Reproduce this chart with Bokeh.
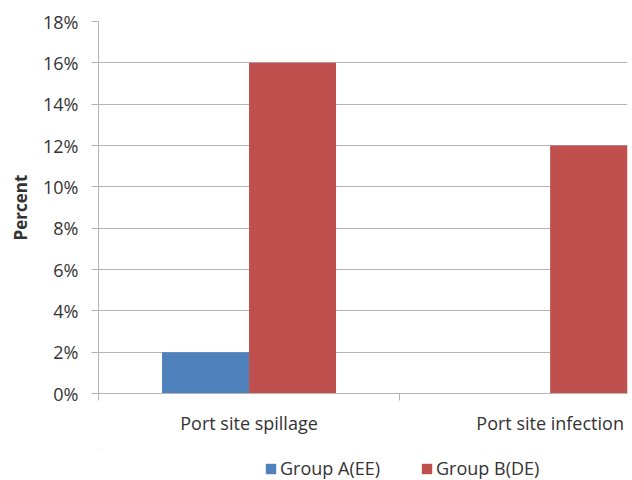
from bokeh.plotting import figure
from bokeh.layouts import column
from bokeh.models import (ColumnDataSource, FixedTicker, PrintfTickFormatter,
                          Range1d, Legend, LegendItem)
from bokeh.embed import file_html
from bokeh.resources import INLINE

# Complication rates (%) by group
categories = ["Port site spillage", "Port site infection"]
series_names = ["Group A(EE)", "Group B(DE)"]
group_a = [2, 0]     # Group A(EE)
group_b = [16, 12]   # Group B(DE)
y_ticks = [0, 2, 4, 6, 8, 10, 12, 14, 16, 18]

FONT = "Open Sans"
TEXT = "#333333"
GRID = "#b4b4b4"
BLUE = "#4F81BD"
RED = "#C0504D"

centers = [i + 0.5 for i in range(len(categories))]
bar_w = 0.289

src = ColumnDataSource(dict(
    xa=[c - bar_w / 2 for c in centers],
    xb=[c + bar_w / 2 for c in centers],
    a=group_a,
    b=group_b,
))

p = figure(width=632, height=448, output_backend="svg", toolbar_location=None,
           x_range=Range1d(0, 1.757), y_range=Range1d(0, 18),
           min_border_left=98, min_border_right=5, min_border_top=21,
           min_border_bottom=55, outline_line_color=None)

p.vbar(x="xa", top="a", bottom=0, width=bar_w, source=src,
       fill_color=BLUE, line_color=None)
p.vbar(x="xb", top="b", bottom=0, width=bar_w, source=src,
       fill_color=RED, line_color=None)

# y axis: percentages with outward ticks
p.yaxis.ticker = FixedTicker(ticks=y_ticks)
p.yaxis.formatter = PrintfTickFormatter(format="%d%%")
p.yaxis.major_tick_out = 7
p.yaxis.major_tick_in = 0
p.yaxis.minor_tick_out = 0
p.yaxis.minor_tick_in = 0
p.yaxis.major_label_standoff = 13
p.yaxis.axis_line_color = GRID
p.yaxis.major_tick_line_color = GRID
p.yaxis.major_label_text_font = FONT
p.yaxis.major_label_text_font_size = "18px"
p.yaxis.major_label_text_color = TEXT
p.yaxis.axis_label = "Percent"
p.yaxis.axis_label_text_font = FONT
p.yaxis.axis_label_text_font_style = "bold"
p.yaxis.axis_label_text_font_size = "17px"
p.yaxis.axis_label_text_color = TEXT
p.yaxis.axis_label_standoff = 8

# x axis: category names at centers, tick marks at category boundaries
p.xaxis.ticker = FixedTicker(ticks=centers,
                             minor_ticks=list(range(len(categories) + 1)))
p.xaxis.major_label_overrides = {c: name for c, name in zip(centers, categories)}
p.xaxis.major_tick_out = 0
p.xaxis.major_tick_in = 0
p.xaxis.minor_tick_out = 7
p.xaxis.minor_tick_in = 0
p.xaxis.minor_tick_line_color = GRID
p.xaxis.axis_line_color = GRID
p.xaxis.major_label_standoff = 10
p.xaxis.major_label_text_font = FONT
p.xaxis.major_label_text_font_size = "18px"
p.xaxis.major_label_text_color = TEXT

p.xgrid.visible = False
p.ygrid.ticker = FixedTicker(ticks=y_ticks)
p.ygrid.grid_line_color = GRID
p.ygrid.grid_line_width = 1.2

# legend strip beneath the chart; its swatch renderers share the bar data
# but lie well outside this strip's visible ranges
leg = figure(width=632, height=32, output_backend="svg", toolbar_location=None,
             x_range=Range1d(50, 51), y_range=Range1d(-50, -49),
             min_border=0, outline_line_color=None)
leg.axis.visible = False
leg.grid.visible = False
swatches = [leg.vbar(x=x, top=t, bottom=0, width=bar_w, source=src,
                     fill_color=c, line_color=None)
            for x, t, c in (("xa", "a", BLUE), ("xb", "b", RED))]
legend = Legend(items=[LegendItem(label=n, renderers=[r])
                       for n, r in zip(series_names, swatches)],
                orientation="horizontal", location=(166, 0),
                glyph_width=13, glyph_height=13, label_standoff=3,
                spacing=40, padding=0, margin=0,
                border_line_color=None, background_fill_alpha=0,
                label_text_font=FONT, label_text_font_size="18px",
                label_text_color=TEXT)
leg.add_layout(legend)

open("out.html", "w").write(file_html(column(p, leg, spacing=0), INLINE))
